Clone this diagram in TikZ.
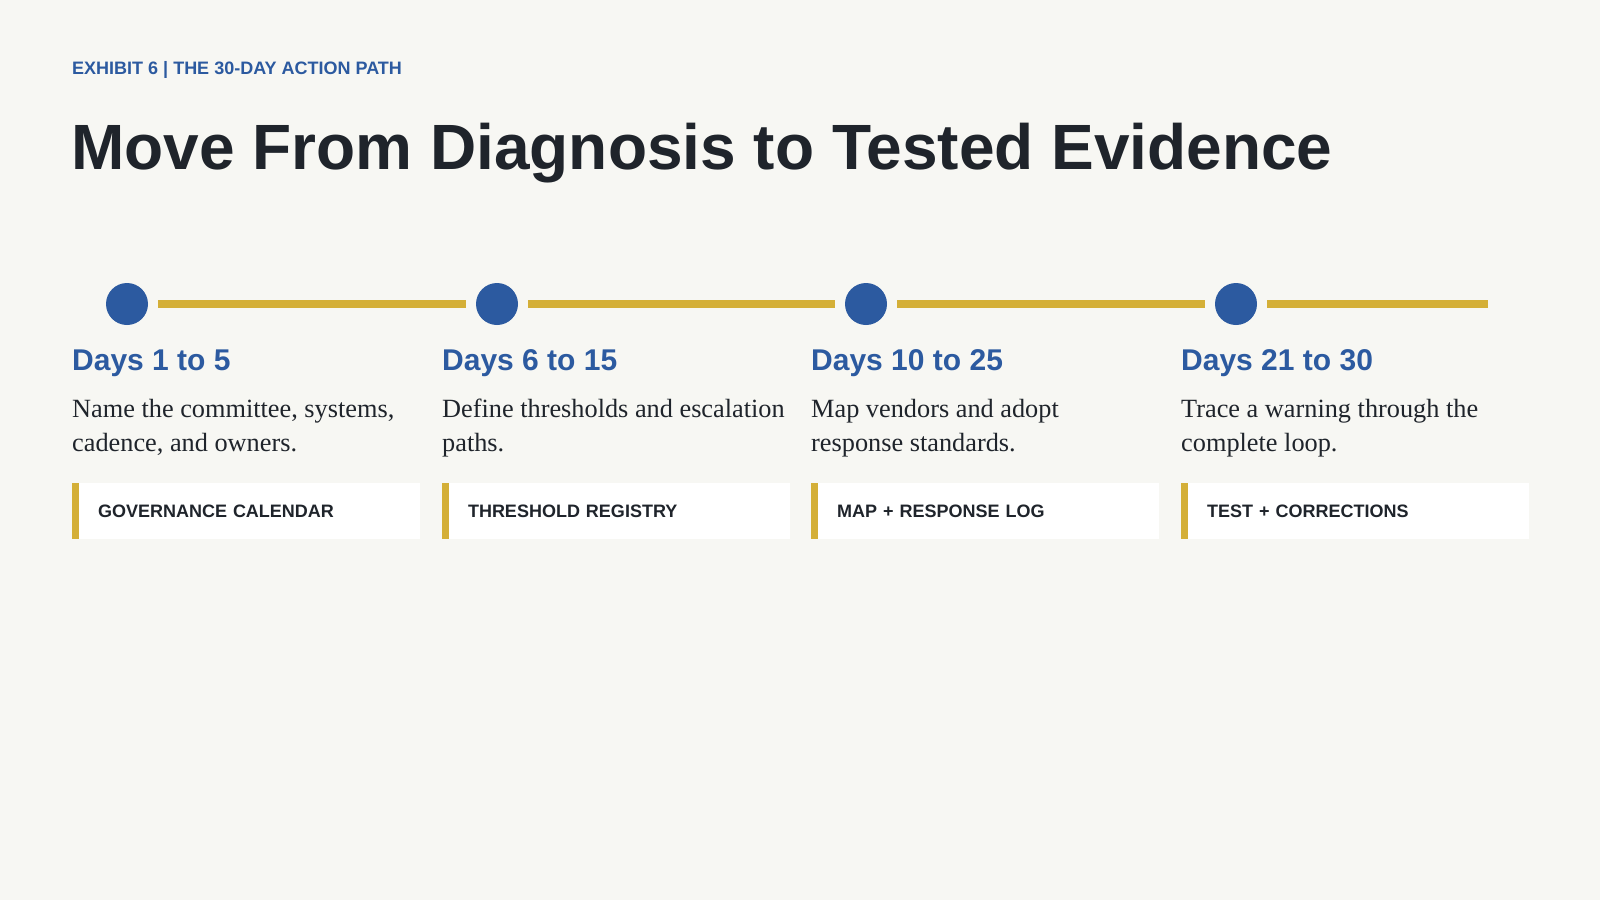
\documentclass[tikz,border=0pt]{standalone}
\usepackage{fontspec}
\setmainfont{Liberation Serif}
\setsansfont{Liberation Sans}
\usetikzlibrary{calc}
\definecolor{pathblue}{HTML}{2C5AA0}
\definecolor{pathgold}{HTML}{D4AF37}
\definecolor{ink}{HTML}{1F242B}
\definecolor{paper}{HTML}{F7F7F3}
\newcommand{\sz}[2]{\fontsize{#1}{#2}\selectfont}
\tikzset{
	dot/.style={circle,fill=pathblue,inner sep=0pt,outer sep=0pt,minimum size=42pt},
	track/.style={draw=pathgold,line width=8pt,shorten <=10pt,shorten >=10pt},
	days/.style={anchor=base west,inner sep=0pt,text=pathblue,font=\sffamily\bfseries\sz{30}{36}},
	note/.style={anchor=base west,inner sep=0pt,align=left,text=ink,font=\sz{26.3}{34}},
	tag/.style={anchor=north west,fill=white,outer sep=0pt,inner xsep=26pt,inner ysep=0pt,
		text width=296pt,minimum height=56pt,align=left,text=ink,font=\sffamily\bfseries\sz{18}{22}},
	bar/.style={fill=pathgold},
}
\begin{document}
\begin{tikzpicture}[x=1pt,y=-1pt]
\fill[paper] (0,0) rectangle (1600,900);
\useasboundingbox (0,0) rectangle (1600,900);
% heading
\node[anchor=base west,inner sep=0pt,text=pathblue,font=\sffamily\bfseries\sz{18}{22}] at (72,74) (kicker) {EXHIBIT 6 | THE 30-DAY ACTION PATH};
\node[anchor=base west,inner sep=0pt,text=ink,font=\sffamily\bfseries\sz{64}{78}] at (71,169) (title) {Move From Diagnosis to Tested Evidence};
% timeline
\node[dot] at (127,304) (c1) {};
\node[dot] at (497,304) (c2) {};
\node[dot] at (866,304) (c3) {};
\node[dot] at (1236,304) (c4) {};
\coordinate (end) at (1488,304);
\draw[track] (c1) -- (c2);
\draw[track] (c2) -- (c3);
\draw[track] (c3) -- (c4);
\draw[track,shorten >=0pt] (c4) -- (end);
% phases (base = last line)
\node[days] at (72,370) (d1) {Days 1 to 5};
\node[days] at (442,370) (d2) {Days 6 to 15};
\node[days] at (811,370) (d3) {Days 10 to 25};
\node[days] at (1181,370) (d4) {Days 21 to 30};
\node[note] at (72,451) (n1) {Name the committee, systems,\\cadence, and owners.};
\node[note] at (442,451) (n2) {Define thresholds and escalation\\paths.};
\node[note] at (811,451) (n3) {Map vendors and adopt\\response standards.};
\node[note] at (1181,451) (n4) {Trace a warning through the\\complete loop.};
% deliverables
\node[tag] at (72,483) (t1) {GOVERNANCE CALENDAR};
\node[tag] at (442,483) (t2) {THRESHOLD REGISTRY};
\node[tag] at (811,483) (t3) {MAP + RESPONSE LOG};
\node[tag] at (1181,483) (t4) {TEST + CORRECTIONS};
\fill[bar] (t1.north west) rectangle ($(t1.south west)+(7,0)$);
\fill[bar] (t2.north west) rectangle ($(t2.south west)+(7,0)$);
\fill[bar] (t3.north west) rectangle ($(t3.south west)+(7,0)$);
\fill[bar] (t4.north west) rectangle ($(t4.south west)+(7,0)$);
\end{tikzpicture}
\end{document}
